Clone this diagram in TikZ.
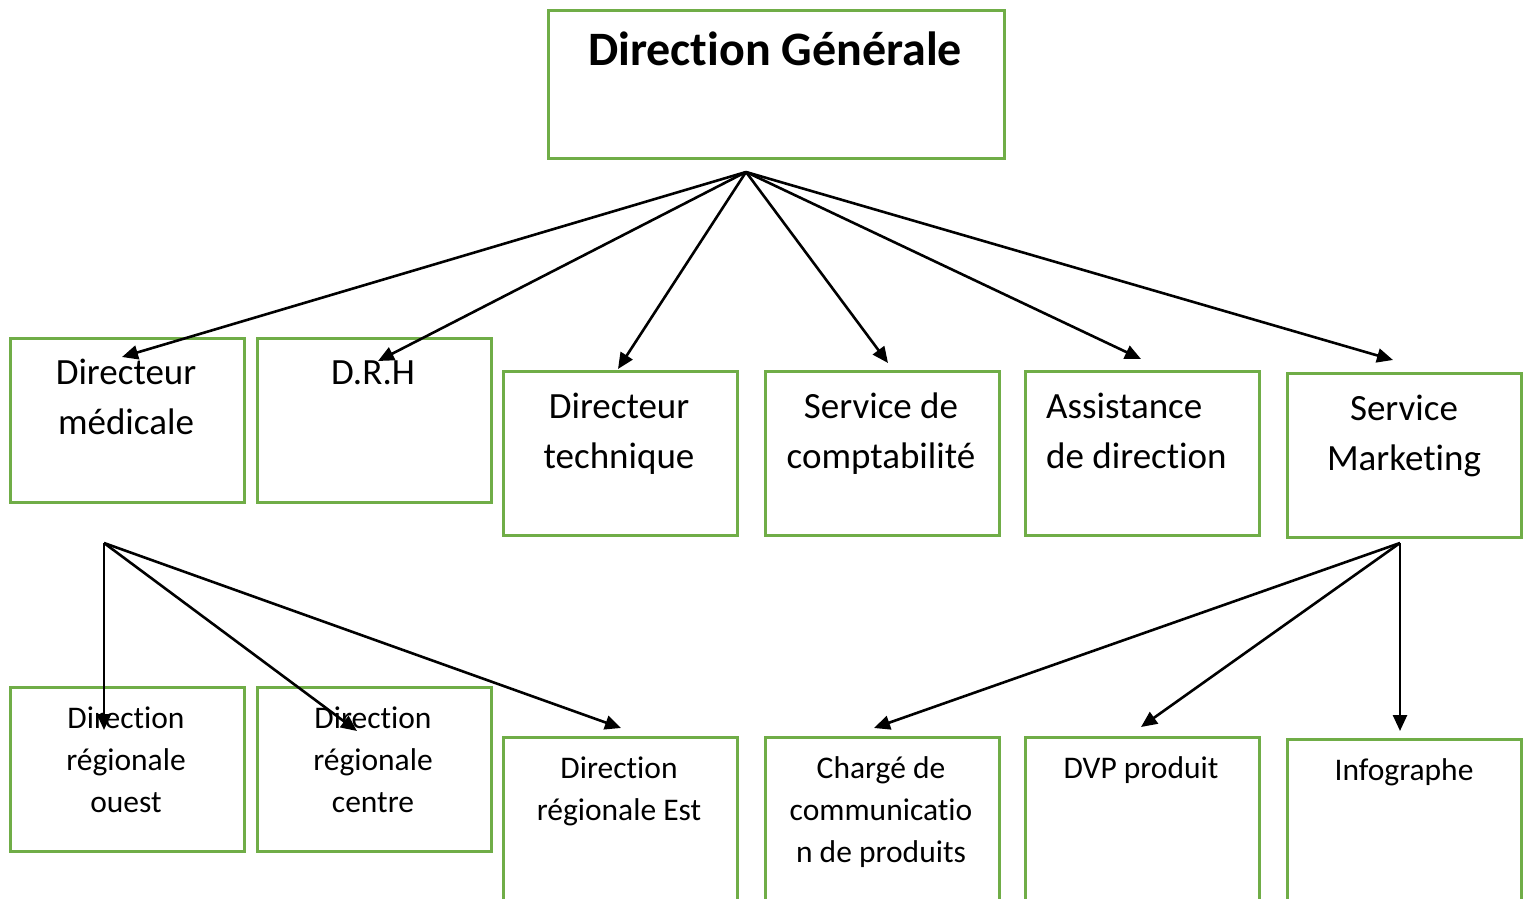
\documentclass[tikz,border=0pt]{standalone}
\usepackage{fontspec}
\setmainfont{Carlito}[Ligatures={NoCommon}]
\usetikzlibrary{arrows.meta}
\definecolor{boxgreen}{HTML}{70AD47}
\tikzset{
  box/.style={draw=boxgreen, line width=2.8pt, minimum width=234pt, minimum height=164pt, anchor=north west, inner sep=0pt},
  tallbox/.style={box, minimum height=200pt},
  lab/.style={font=\fontsize{37}{50}\selectfont, align=center, anchor=base, inner sep=0pt},
  slab/.style={font=\fontsize{31.5}{42}\selectfont, align=center, anchor=base, inner sep=0pt},
  arr/.style={line width=2.6pt, -{Triangle[length=16pt,width=14pt]}},
}
\begin{document}
\begin{tikzpicture}[x=1pt,y=-1pt]
\useasboundingbox (0,0) rectangle (1528,899);
\clip (0,0) rectangle (1528,899);
% title
\node[box, minimum width=456pt, minimum height=148pt] (dg) at (547,9) {};
\node[font=\fontsize{48}{58}\selectfont\bfseries, anchor=base, inner sep=0pt] (dgt) at (775,66) {Direction Générale};
% level 1 (base anchor = baseline of last line)
\node[box] (dm) at (9,337) {};
\node[box] (drh) at (256,337) {};
\node[box] (dt) at (502,370) {};
\node[box] (sc) at (764,370) {};
\node[box] (ad) at (1024,370) {};
\node[box] (sm) at (1286,372) {};
\node[lab] (dmt) at (126,434) {Directeur\\médicale};
\node[lab] (drht) at (373,384) {D.R.H};
\node[lab] (dtt) at (619,468) {Directeur\\technique};
\node[lab] (sct) at (881,468) {Service de\\comptabilité};
\node[lab, align=left, anchor=base west] (adt) at (1046,468) {Assistance\\de direction};
\node[lab] (smt) at (1404,470) {Service\\Marketing};
% level 2
\node[box] (ro) at (9,686) {};
\node[box] (rc) at (256,686) {};
\node[tallbox] (re) at (502,736) {};
\node[tallbox] (cc) at (764,736) {};
\node[tallbox] (dvp) at (1024,736) {};
\node[tallbox] (inf) at (1286,738) {};
\node[slab] (rot) at (126,812) {Direction\\régionale\\ouest};
\node[slab] (rct) at (373,812) {Direction\\régionale\\centre};
\node[slab] (ret) at (619,820) {Direction\\régionale Est};
\node[slab] (cct) at (881,862) {Chargé de\\communicatio\\n de produits};
\node[slab] (dvpt) at (1141,778) {DVP produit};
\node[slab] (inft) at (1404,780) {Infographe};
% hubs and tips
\coordinate (h0) at (746,172);
\coordinate (h1) at (104,543);
\coordinate (h2) at (1400,543);
\coordinate (t1) at (122,357);
\coordinate (t2) at (378,361);
\coordinate (t3) at (618,369);
\coordinate (t4) at (888,363);
\coordinate (t5) at (1141,359);
\coordinate (t6) at (1393,360);
\coordinate (b1) at (104,730);
\coordinate (b2) at (357,731);
\coordinate (b3) at (621,728);
\coordinate (b4) at (874,728);
\coordinate (b5) at (1141,727);
\coordinate (b6) at (1400,731);
\foreach \t in {t1,t2,t3,t4,t5,t6} \draw[arr] (h0) -- (\t);
\foreach \t in {b1,b2,b3} \draw[arr] (h1) -- (\t);
\foreach \t in {b4,b5,b6} \draw[arr] (h2) -- (\t);
\end{tikzpicture}
\end{document}
